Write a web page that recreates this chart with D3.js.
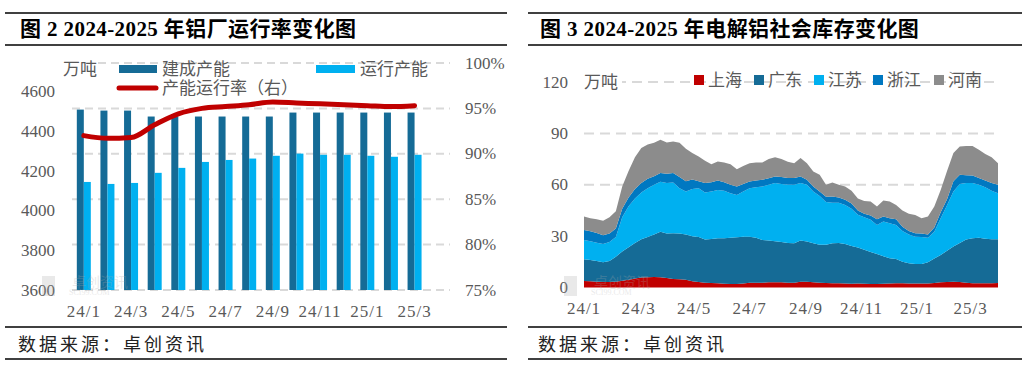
<!DOCTYPE html>
<html>
<head>
<meta charset="utf-8">
<script src="https://cdn.jsdelivr.net/npm/d3@7"></script>
<style>
body{margin:0;background:#fff}
svg{display:block}
text{font-family:"Liberation Serif","Noto Sans CJK SC",serif}
</style>
</head>
<body>
<div id="chart"></div>
<script>
// 图2 数据 (月度, 最后一格空)
const months = ['24/1','24/2','24/3','24/4','24/5','24/6','24/7','24/8','24/9','24/10','24/11','24/12','25/1','25/2','25/3','25/4'];
const builtCap = [4510,4505,4505,4475,4475,4475,4475,4475,4475,4495,4495,4495,4495,4495,4495];
const runCap   = [4145,4135,4140,4191,4216,4246,4256,4263,4277,4288,4282,4282,4277,4272,4282];
const runRate  = [92.0,91.7,91.8,93.2,94.4,95.0,95.2,95.4,95.7,95.6,95.5,95.4,95.3,95.2,95.3];
const leftTicks = [3600,3800,4000,4200,4400,4600];
const rateTicks = [75,80,85,90,95,100];

// 图3 数据 (周度, 万吨)
const shanghai = [3.8,3.6,3.4,3.2,3.2,3.3,4.0,4.5,5.2,5.8,
  6.0,6.1,6.0,5.6,5.0,4.8,4.5,3.6,3.2,2.8,
  2.6,2.5,2.2,2.0,2.0,2.4,2.8,2.8,2.8,3.0,
  3.0,3.0,2.8,2.8,3.4,3.4,3.0,2.8,2.6,2.5,
  2.5,2.3,2.2,2.3,2.2,2.0,2.0,2.2,2.4,2.5,
  2.5,2.4,2.3,2.3,2.4,2.6,3.0,3.2,3.4,3.2,
  2.8,2.5,2.5,2.5,2.5,2.6];
const guangdong = [12.7,12.4,12.1,11.6,12.3,14.7,17.0,19.0,20.8,22.4,
  23.5,24.9,26.5,25.9,26.7,26.7,26.5,26.4,26.3,25.2,
  25.7,26.3,26.6,27.0,27.4,27.2,26.9,26.2,25.0,24.5,
  24.0,23.5,23.2,23.0,24.1,23.4,22.8,22.2,22.3,23.3,
  23.5,23.1,22.0,21.0,19.8,18.8,17.6,16.0,14.7,14.1,
  12.5,11.8,11.4,11.4,12.4,14.4,16.0,18.3,20.6,22.8,
  25.2,26.3,26.6,26.0,25.7,25.6];
const jiangsu = [11.3,11.0,10.7,10.6,11.0,11.5,20.0,24.0,26.0,27.3,
  28.5,29.0,29.3,29.5,29.6,26.5,25.0,27.5,28.5,27.5,
  27.7,28.2,27.7,26.0,24.6,26.4,28.3,29.5,31.2,32.5,
  34.0,34.0,34.0,34.2,33.5,33.2,30.2,28.5,25.1,23.7,
  23.5,22.8,21.8,19.2,19.0,18.7,16.9,20.3,20.4,19.9,
  18.0,16.8,16.0,15.8,14.2,15.5,21.5,26.5,32.0,34.5,
  33.0,32.2,30.9,30.0,28.3,26.8];
const zhejiang = [5.8,5.8,5.6,5.1,5.0,5.0,5.0,5.0,5.5,5.5,
  5.5,5.0,5.0,5.4,5.5,6.5,6.0,5.5,4.0,5.5,
  5.5,5.5,5.0,5.0,5.0,4.5,3.9,4.0,3.9,3.8,
  3.8,4.0,4.0,3.9,3.8,2.9,3.0,2.5,3.0,3.6,
  3.0,3.0,3.0,2.5,2.0,2.5,3.4,2.9,3.0,3.4,
  2.5,2.0,2.0,2.0,2.0,2.5,3.5,3.5,6.0,5.3,
  4.6,4.4,4.0,4.0,4.5,5.0];
const henan = [7.8,7.7,8.0,8.5,9.5,10.0,13.0,15.5,18.5,20.5,
  20.0,19.5,19.5,18.3,18.5,20.0,19.0,15.5,14.5,13.0,
  10.5,11.1,11.5,12.0,10.1,10.5,10.7,10.5,10.1,11.2,
  11.3,10.5,9.5,8.7,10.8,9.7,8.7,9.8,7.0,8.2,
  7.5,7.8,7.5,7.0,7.5,8.2,7.4,9.4,9.7,8.3,
  9.5,10.0,10.7,9.0,10.4,12.3,13.0,16.5,16.5,16.5,
  17.1,17.3,16.4,15.5,15.0,12.6];
const regions = ['上海','广东','江苏','浙江','河南'];
const regionColors = ['#C00000','#156B96','#00B0F0','#0078C1','#8C8C8C'];
const stockTicks = [0,30,60,90,120];
const stockTickLabels = ['24/1','24/3','24/5','24/7','24/9','24/11','25/1','25/3'];

const weeks = d3.timeDay.range(new Date(2024,0,4), new Date(2025,3,4), 7);

const axisColor = '#595959';
const gridColor = '#D9D9D9';

const svg = d3.select('#chart').append('svg').attr('width',1024).attr('height',367);
svg.append('rect').attr('width',1024).attr('height',367).attr('fill','#fff');

function frame(x0, x1, tx, title){
  [13,45,327,359].forEach(y=>{
    svg.append('line').attr('x1',x0).attr('x2',x1).attr('y1',y).attr('y2',y)
       .attr('stroke','#000').attr('stroke-width',1.5);
  });
  svg.append('text').attr('x',tx).attr('y',36).attr('font-size',21).attr('font-weight','bold')
     .attr('letter-spacing',0.4).attr('fill','#000').text(title);
  svg.append('text').attr('x',tx-2).attr('y',351).attr('font-size',18).attr('letter-spacing',3)
     .attr('fill','#222').text('数据来源：卓创资讯');
}

// faint logo on top of the plot
function watermark(x, y){
  const g = svg.append('g').attr('opacity',0.25);
  g.append('rect').attr('x',x).attr('y',y-14).attr('width',13).attr('height',20).attr('fill','#aaa');
  g.append('text').attr('x',x+30).attr('y',y-3).attr('font-size',14).attr('fill','#aaa').text('卓创资讯');
  g.append('text').attr('x',x+27).attr('y',y+5).attr('font-size',8).attr('fill','#aaa').text('SCI99.COM');
}

// ---------------- 图2 ----------------
frame(5, 507, 20, '图 2  2024-2025 年铝厂运行率变化图');

const xL = d3.scaleBand(months, [72, 450]);
const bw = xL.bandwidth();
const yL = d3.scaleLinear([3600, 4745], [290, 63]);
const yR = d3.scaleLinear([75, 100], [290, 63]);

const gL = svg.append('g');

gL.selectAll('.grid').data(rateTicks).join('line')
  .attr('x1',72).attr('x2',450).attr('y1',d=>yR(d)).attr('y2',d=>yR(d))
  .attr('stroke',gridColor).attr('stroke-width',2).attr('stroke-dasharray','8 5');

gL.selectAll('.ltick').data(leftTicks).join('text')
  .attr('x',55).attr('y',d=>yL(d)).attr('text-anchor','end').attr('dominant-baseline','central')
  .attr('font-size',17).attr('fill',axisColor).text(d=>d);

gL.selectAll('.rtick').data(rateTicks).join('text')
  .attr('x',465).attr('y',d=>yR(d)).attr('dominant-baseline','central')
  .attr('font-size',17).attr('fill',axisColor).text(d=>d+'%');

gL.selectAll('.xtick').data(months.filter((m,i)=>i%2==0 && i<15)).join('text')
  .attr('x',d=>xL(d)+bw/2).attr('y',311).attr('text-anchor','middle').attr('dominant-baseline','central')
  .attr('font-size',17).attr('letter-spacing',1).attr('fill',axisColor).text(d=>d);

gL.selectAll('.bar1').data(builtCap).join('rect')
  .attr('x',(d,i)=>xL(months[i])+bw/2-7).attr('width',7)
  .attr('y',d=>yL(d)).attr('height',d=>yL(3600)-yL(d)).attr('fill','#156B96');
gL.selectAll('.bar2').data(runCap).join('rect')
  .attr('x',(d,i)=>xL(months[i])+bw/2).attr('width',7)
  .attr('y',d=>yL(d)).attr('height',d=>yL(3600)-yL(d)).attr('fill','#00B0F0');

const rateLine = d3.line().x((d,i)=>xL(months[i])+bw/2).y(d=>yR(d)).curve(d3.curveMonotoneX);
gL.append('path').attr('d',rateLine(runRate)).attr('fill','none')
  .attr('stroke','#C00000').attr('stroke-width',5).attr('stroke-linecap','round');

watermark(42, 290);

// legend / unit
gL.append('rect').attr('x',60).attr('y',55).attr('width',38).attr('height',24).attr('fill','#fff');
gL.append('text').attr('x',63).attr('y',69).attr('dominant-baseline','central')
  .attr('font-size',17).attr('fill',axisColor).text('万吨');
gL.append('rect').attr('x',119).attr('y',65).attr('width',38).attr('height',8).attr('fill','#156B96');
gL.append('text').attr('x',162).attr('y',69).attr('dominant-baseline','central')
  .attr('font-size',17).attr('fill',axisColor).text('建成产能');
gL.append('line').attr('x1',119).attr('x2',156).attr('y1',88).attr('y2',88)
  .attr('stroke','#C00000').attr('stroke-width',5).attr('stroke-linecap','round');
gL.append('text').attr('x',162).attr('y',88).attr('dominant-baseline','central')
  .attr('font-size',17).attr('fill',axisColor).text('产能运行率（右）');
gL.append('rect').attr('x',316).attr('y',65).attr('width',39).attr('height',8).attr('fill','#00B0F0');
gL.append('text').attr('x',360).attr('y',69).attr('dominant-baseline','central')
  .attr('font-size',17).attr('fill',axisColor).text('运行产能');

// ---------------- 图3 ----------------
frame(528, 1022, 540, '图 3  2024-2025 年电解铝社会库存变化图');

const xS = d3.scaleTime([weeks[0], weeks[weeks.length-1]], [584, 998]);
const yS = d3.scaleLinear([0, 120], [287.5, 82]);

const gR = svg.append('g');

gR.selectAll('.grid').data(stockTicks.slice(1)).join('line')
  .attr('x1',584).attr('x2',998).attr('y1',d=>yS(d)).attr('y2',d=>yS(d))
  .attr('stroke',gridColor).attr('stroke-width',2).attr('stroke-dasharray','10 6');

const table = weeks.map((w,i)=>({date:w, '上海':shanghai[i], '广东':guangdong[i], '江苏':jiangsu[i], '浙江':zhejiang[i], '河南':henan[i]}));
const series = d3.stack().keys(regions)(table);
const area = d3.area().x(d=>xS(d.data.date)).y0(d=>yS(d[0])).y1(d=>yS(d[1]));
gR.selectAll('.layer').data(series).join('path')
  .attr('d',area).attr('fill',(d,i)=>regionColors[i]);

gR.selectAll('.ytick').data(stockTicks).join('text')
  .attr('x',568).attr('y',d=>yS(d)).attr('text-anchor','end').attr('dominant-baseline','central')
  .attr('font-size',17).attr('fill',axisColor).text(d=>d);

gR.selectAll('.xtick').data(stockTickLabels).join('text')
  .attr('x',(d,i)=>xS(d3.timeMonth.offset(weeks[0], i*2))).attr('y',308)
  .attr('text-anchor','middle').attr('dominant-baseline','central')
  .attr('font-size',17).attr('letter-spacing',1).attr('fill',axisColor).text(d=>d);

watermark(564, 290);

gR.append('rect').attr('x',582).attr('y',70).attr('width',40).attr('height',24).attr('fill','#fff');
gR.append('text').attr('x',584).attr('y',82).attr('dominant-baseline','central')
  .attr('font-size',17).attr('fill',axisColor).text('万吨');

const legX = [694,754,814,873,934];
regions.forEach((r,i)=>{
  gR.append('rect').attr('x',legX[i]).attr('y',75).attr('width',10).attr('height',10).attr('fill',regionColors[i]);
  gR.append('text').attr('x',legX[i]+14).attr('y',80).attr('dominant-baseline','central')
    .attr('font-size',17).attr('fill',axisColor).text(r);
});
</script>
</body>
</html>
